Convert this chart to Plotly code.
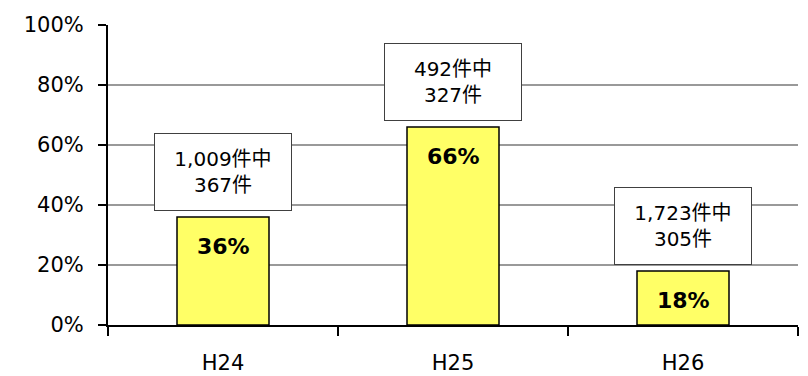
import plotly.graph_objects as go

# 年度ごとの該当割合
years = ["H24", "H25", "H26"]
totals = ["1,009", "492", "1,723"]
counts = ["367", "327", "305"]
shares = [36, 66, 18]

y_ticks = [0, 20, 40, 60, 80, 100]
y_tick_labels = [f"{v}%" for v in y_ticks]

FONT = "'DejaVu Sans', 'Noto Sans CJK JP', sans-serif"

fig = go.Figure()
fig.add_trace(go.Bar(
    x=years,
    y=shares,
    width=0.4,
    marker=dict(color="#FFFF66", line=dict(color="#000000", width=1.5)),
    hoverinfo="skip",
))

# 棒の中の割合ラベル
for yr, v in zip(years, shares):
    fig.add_annotation(
        x=yr, y=v, text=f"<b>{v}%</b>", showarrow=False,
        yanchor="top", yshift=-15,
        font=dict(family=FONT, size=22, color="#000000"),
    )

# 棒の上の件数ボックス
for yr, v, tot, cnt in zip(years, shares, totals, counts):
    fig.add_annotation(
        x=yr, y=v, text=f"{tot}件中<br>{cnt}件", showarrow=False,
        yanchor="bottom", yshift=6,
        width=134, height=74, borderpad=1,
        bgcolor="#FFFFFF", bordercolor="#404040", borderwidth=1,
        font=dict(family=FONT, size=20, color="#000000"),
        align="center", valign="middle",
    )

fig.update_layout(
    width=808, height=376,
    margin=dict(l=108, r=10, t=25, b=51),
    plot_bgcolor="#FFFFFF", paper_bgcolor="#FFFFFF",
    showlegend=False,
    bargap=0.6,
    font=dict(family=FONT, color="#000000"),
)
fig.update_yaxes(
    range=[0, 100], tickvals=y_ticks, ticktext=y_tick_labels,
    showgrid=True, gridcolor="#999999", gridwidth=1.5,
    showline=True, linecolor="#000000", linewidth=2,
    ticks="outside", ticklen=8, tickwidth=2, tickcolor="#000000",
    ticklabelstandoff=10,
    tickfont=dict(family=FONT, size=21, color="#000000"),
    zeroline=False, fixedrange=True, automargin=False,
)
fig.update_xaxes(
    showline=True, linecolor="#000000", linewidth=2,
    ticks="outside", tickson="boundaries", ticklen=9, tickwidth=2, tickcolor="#000000",
    ticklabelstandoff=18,
    tickfont=dict(family=FONT, size=21, color="#000000"),
    fixedrange=True, automargin=False,
)

fig.write_html("out.html")
